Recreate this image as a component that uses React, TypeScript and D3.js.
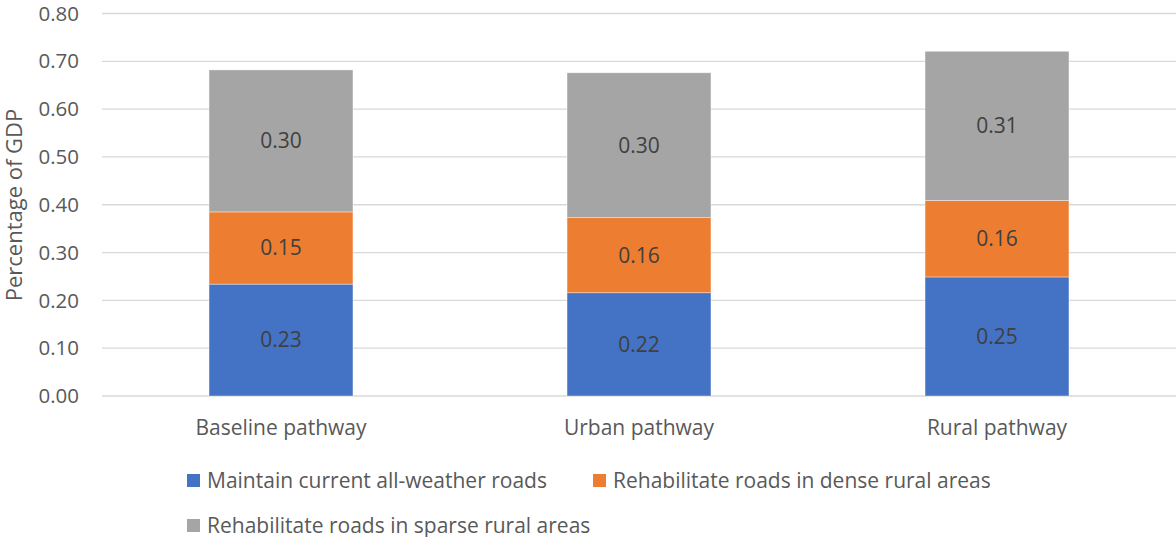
import React from "react";
import * as d3 from "d3";

const categories = ["Baseline pathway", "Urban pathway", "Rural pathway"];
const seriesNames = [
  "Maintain current all-weather roads",
  "Rehabilitate roads in dense rural areas",
  "Rehabilitate roads in sparse rural areas",
];
const maintainValues = [0.234, 0.216, 0.249];
const denseValues = [0.151, 0.157, 0.160];
const sparseValues = [0.297, 0.303, 0.312];
const yTicks = [0, 0.1, 0.2, 0.3, 0.4, 0.5, 0.6, 0.7, 0.8];
const colors = ["#4472C4", "#ED7D31", "#A5A5A5"];

const W = 1176;
const H = 537;
const FONT = "'Open Sans', sans-serif";

export default function App() {
  const x = d3.scaleBand<string>().domain(categories).range([102, 1176]).paddingInner(0).paddingOuter(0);
  const y = d3.scaleLinear().domain([0, 0.8]).range([396, 13.5]);
  const barW = x.bandwidth() * 0.402;
  const allSeries = [maintainValues, denseValues, sparseValues];
  const rows = categories.map((c, i) => ({
    cat: c,
    s0: maintainValues[i],
    s1: denseValues[i],
    s2: sparseValues[i],
  }));
  const stack = d3.stack<any>().keys(["s0", "s1", "s2"])(rows);

  const legend = [
    { x: 187, y: 480.5, i: 0 },
    { x: 593, y: 480.5, i: 1 },
    { x: 187, y: 525.5, i: 2 },
  ];

  return (
    <div style={{ position: "fixed", left: 0, top: 0 }}>
      <svg width={W} height={H} style={{ display: "block", background: "#fff" }} fontFamily={FONT}>
        {yTicks.map((t) => (
          <g key={t}>
            <line x1={102} x2={1176} y1={y(t)} y2={y(t)} stroke="#d9d9d9" strokeWidth={1.3} />
            <text x={79} y={y(t)} dy="0.35em" textAnchor="end" fontSize={20.5} fill="#595959">
              {t.toFixed(2)}
            </text>
          </g>
        ))}
        <text
          transform={`translate(22,${205}) rotate(-90)`}
          textAnchor="middle"
          fontSize={22}
          fill="#595959"
        >
          Percentage of GDP
        </text>
        {stack.map((layer, si) =>
          layer.map((d, ci) => {
            const cx = (x(categories[ci]) as number) + x.bandwidth() / 2;
            const y0 = y(d[0]);
            const y1 = y(d[1]);
            const v = allSeries[si][ci];
            return (
              <g key={`${si}-${ci}`}>
                <rect
                  x={cx - barW / 2}
                  y={y1}
                  width={barW}
                  height={y0 - y1}
                  fill={colors[si]}
                  stroke="#ffffff"
                  strokeOpacity={0.5}
                  strokeWidth={0.75}
                />
                <text
                  x={cx}
                  y={(y0 + y1) / 2}
                  dy="0.35em"
                  textAnchor="middle"
                  fontSize={21}
                  fill="#404040"
                >
                  {v.toFixed(2)}
                </text>
              </g>
            );
          })
        )}
        {categories.map((c) => (
          <text
            key={c}
            x={(x(c) as number) + x.bandwidth() / 2}
            y={428}
            dy="0.35em"
            textAnchor="middle"
            fontSize={21}
            fill="#595959"
          >
            {c}
          </text>
        ))}
        {legend.map((l) => (
          <g key={l.i}>
            <rect x={l.x} y={l.y - 6.5} width={13} height={13} fill={colors[l.i]} />
            <text x={l.x + 20} y={l.y} dy="0.35em" fontSize={21} fill="#595959">
              {seriesNames[l.i]}
            </text>
          </g>
        ))}
      </svg>
    </div>
  );
}
